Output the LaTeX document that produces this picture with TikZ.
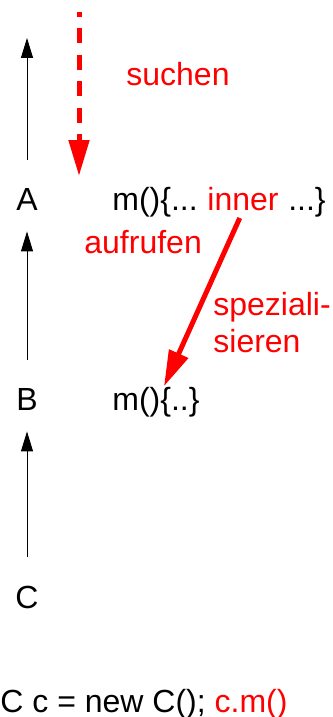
\documentclass[tikz,border=0pt]{standalone}
\usepackage{fontspec}
\setmainfont{Liberation Sans}
\usetikzlibrary{arrows.meta,positioning}

\begin{document}
\begin{tikzpicture}[x=0.5pt,y=-0.5pt,
  txt/.style={inner sep=0pt,font=\fontsize{16}{18.5}\selectfont},
  isa/.style={-{Triangle[length=10pt,width=6pt]},line width=0.5pt,shorten >=10.5pt,shorten <=14pt},
  redarr/.style={red,line width=2.5pt,-{Triangle[length=18pt,width=10pt]}}]
\useasboundingbox (0,0) rectangle (332,717);
% classes
\node[txt,anchor=base] (A) at (27,210){A};
\node[txt,anchor=base] (B) at (27,410){B};
\node[txt,anchor=base] (C) at (27,608){C};
\coordinate (topA) at (27,38);
\draw[isa,shorten >=0pt] (A) -- (topA);
\draw[isa] (B) -- (A);
\draw[isa] (C) -- (B);
% methods
\node[txt,anchor=base west] (mA) at (112,210){m()\{...\ \mbox{}};
\node[txt,anchor=base west,red] (inner) at (mA.base east){inner};
\node[txt,anchor=base west] (mArest) at (inner.base east){\mbox{}\ ...\}};
\node[txt,anchor=base west] (mB) at (112,410){m()\{..\}};
% call
\node[txt,anchor=base west] (decl) at (0,712){C c = new C(); \textcolor{red}{c.m()}};
% lookup
\coordinate (look0) at (79,12);
\coordinate (look1) at (79,176);
\draw[redarr,dash pattern=on 7.5pt off 5.75pt,dash phase=5pt] (look0) -- (look1);
\node[txt,anchor=base west,red] (suchen) at (126,86){suchen};
\node[txt,anchor=base west,red] (aufrufen) at (84,253){aufrufen};
\draw[redarr,shorten <=4pt] (inner.south) -- ([xshift=4pt]mB.north);
\node[txt,anchor=base west,red,align=left] (spez) at (213,352){speziali-\\sieren};
\end{tikzpicture}
\end{document}
